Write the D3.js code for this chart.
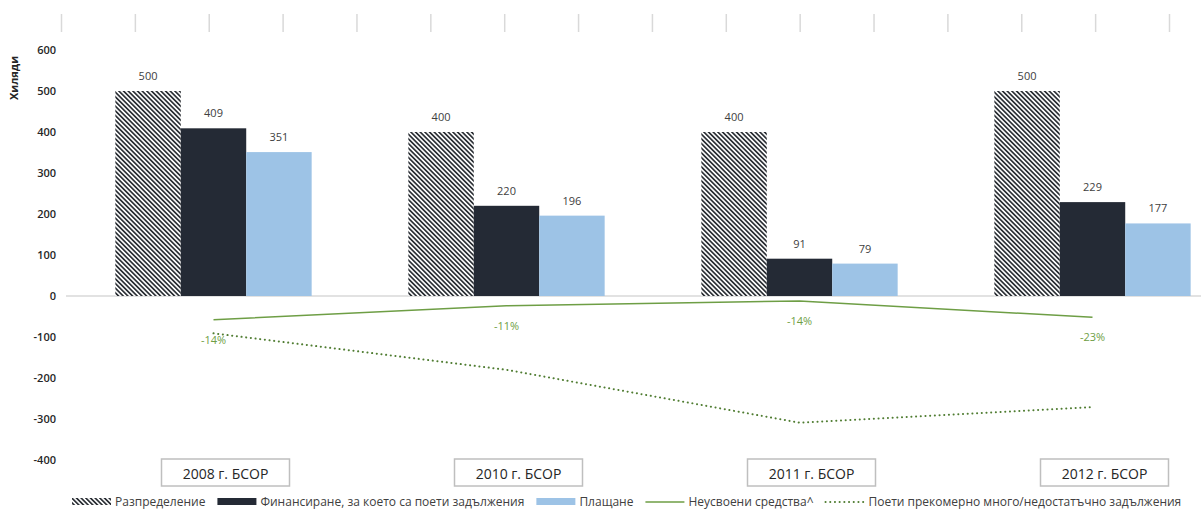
<!DOCTYPE html>
<html>
<head>
<meta charset="utf-8">
<script src="https://cdn.jsdelivr.net/npm/d3@7"></script>
<style>
  body { margin: 0; background: #fff; }
  text { font-family: "Open Sans", sans-serif; }
</style>
</head>
<body>
<svg width="1201" height="510"></svg>
<script>
// chart data
var categories = ["2008 г. БСОР", "2010 г. БСОР", "2011 г. БСОР", "2012 г. БСОР"];
var allocation = [500, 400, 400, 500];
var committed = [409, 220, 91, 229];
var payments = [351, 196, 79, 177];
var unused = [-58, -24, -12, -52];
var unusedLabels = ["-14%", "-11%", "-14%", "-23%"];
var overUnder = [-91, -180, -309, -271];
var yTicks = [-400, -300, -200, -100, 0, 100, 200, 300, 400, 500, 600];
var barSeries = ["Разпределение", "Финансиране, за което са поети задължения", "Плащане"];
var lineSeries = ["Неусвоени средства^", "Поети прекомерно много/недостатъчно задължения"];

var svg = d3.select("svg");

var colours = d3.scaleOrdinal()
    .domain(barSeries)
    .range(["url(#hatch)", "#242a35", "#9dc3e6"]);
var green = "#6e9e45", darkGreen = "#507d32";

var defs = svg.append("defs");
defs.append("pattern")
    .attr("id", "hatch")
    .attr("patternUnits", "userSpaceOnUse")
    .attr("width", 3.3).attr("height", 3.3)
    .attr("patternTransform", "rotate(-45)")
  .call(function(p) {
    p.append("rect").attr("width", 3.3).attr("height", 3.3).attr("fill", "#fff");
    p.append("rect").attr("width", 1.7).attr("height", 3.3).attr("fill", "#2c3036");
  });

var x0 = d3.scaleBand().domain(categories).range([67, 1239])
    .paddingInner(0.33).paddingOuter(0.165);
var x1 = d3.scaleBand().domain(barSeries).range([0, x0.bandwidth()]);
var y = d3.scaleLinear().domain([-400, 600]).range([460, 50]);
var cx = function(c) { return x0(c) + x0.bandwidth() / 2; };

// faint tick marks along the top
var topScale = d3.scaleLinear().domain([0, 15]).range([61, 1169]);
var topAxis = svg.append("g")
    .attr("transform", "translate(0,32)")
    .call(d3.axisTop(topScale).ticks(15).tickSize(18).tickFormat(""));
topAxis.select(".domain").remove();
topAxis.selectAll("line").attr("stroke", "#d9d9d9").attr("stroke-width", 1.5);

// y axis labels
var yAxis = svg.append("g")
    .attr("transform", "translate(56,0)")
    .call(d3.axisLeft(y).tickValues(yTicks).tickSize(0).tickPadding(0)
      .tickFormat(function(d) { return String(d); }));
yAxis.select(".domain").remove();
yAxis.selectAll("text")
    .attr("fill", "#262626")
    .style("font-size", "11px")
    .style("font-weight", "600");

svg.append("text")
    .attr("transform", "translate(18,78) rotate(-90)")
    .attr("text-anchor", "middle")
    .attr("fill", "#262626")
    .style("font-size", "11px")
    .style("font-weight", "700")
    .text("Хиляди");

// zero line
svg.append("line")
    .attr("x1", 66).attr("x2", 1201)
    .attr("y1", y(0)).attr("y2", y(0))
    .attr("stroke", "#d9d9d9").attr("stroke-width", 1.5);

// bars
var rows = categories.map(function(c, i) {
  return {cat: c, values: [allocation[i], committed[i], payments[i]]};
});

var groups = svg.selectAll(".group")
    .data(rows)
  .enter().append("g")
    .attr("class", "group")
    .attr("transform", function(d) { return "translate(" + x0(d.cat) + ",0)"; });

var cells = groups.selectAll(".cell")
    .data(function(d) { return d.values.map(function(v, j) { return {key: barSeries[j], value: v}; }); })
  .enter();

cells.append("rect")
    .attr("x", function(d) { return x1(d.key); })
    .attr("y", function(d) { return y(Math.max(0, d.value)); })
    .attr("width", x1.bandwidth())
    .attr("height", function(d) { return Math.abs(y(d.value) - y(0)); })
    .attr("fill", function(d) { return colours(d.key); });

cells.append("text")
    .attr("x", function(d) { return x1(d.key) + x1.bandwidth() / 2; })
    .attr("y", function(d) { return y(d.value) - 11; })
    .attr("text-anchor", "middle")
    .attr("fill", "#404040")
    .style("font-size", "11px")
    .text(function(d) { return d.value; });

// lines
var line = d3.line()
    .x(function(d) { return cx(d.cat); })
    .y(function(d) { return y(d.value); });

var unusedPts = categories.map(function(c, i) { return {cat: c, value: unused[i], label: unusedLabels[i]}; });
var overPts = categories.map(function(c, i) { return {cat: c, value: overUnder[i]}; });

svg.append("path")
    .datum(overPts)
    .attr("d", line)
    .attr("fill", "none")
    .attr("stroke", darkGreen)
    .attr("stroke-width", 2)
    .attr("stroke-linecap", "round")
    .attr("stroke-dasharray", "0.1,4.6");

svg.append("path")
    .datum(unusedPts)
    .attr("d", line)
    .attr("fill", "none")
    .attr("stroke", green)
    .attr("stroke-width", 1.5);

svg.selectAll(".lineLabel")
    .data(unusedPts)
  .enter().append("text")
    .attr("class", "lineLabel")
    .attr("x", function(d) { return cx(d.cat); })
    .attr("y", function(d) { return y(d.value) + 24; })
    .attr("text-anchor", "middle")
    .attr("fill", green)
    .style("font-size", "11px")
    .text(function(d) { return d.label; });

// category boxes
var boxes = svg.selectAll(".catBox")
    .data(categories)
  .enter().append("g")
    .attr("class", "catBox")
    .attr("transform", function(d) { return "translate(" + (cx(d) + 12) + ",0)"; });

boxes.append("rect")
    .attr("x", -64).attr("y", 459)
    .attr("width", 128).attr("height", 27)
    .attr("fill", "#fff")
    .attr("stroke", "#bfbfbf")
    .attr("stroke-width", 1.5);

boxes.append("text")
    .attr("y", 479)
    .attr("text-anchor", "middle")
    .attr("fill", "#262626")
    .style("font-size", "14px")
    .text(function(d) { return d; });

// legend
var legendItems = [
  {name: barSeries[0], type: "bar"},
  {name: barSeries[1], type: "bar"},
  {name: barSeries[2], type: "bar"},
  {name: lineSeries[0], type: "solid"},
  {name: lineSeries[1], type: "dotted"}
];

var legend = svg.append("g").attr("class", "legend");
var lx = 72;
legendItems.forEach(function(item) {
  var g = legend.append("g").attr("transform", "translate(" + lx + ",0)");
  if (item.type === "bar") {
    g.append("rect").attr("x", 0).attr("y", 498).attr("width", 39).attr("height", 7)
        .attr("fill", colours(item.name));
  } else {
    g.append("line").attr("x1", 0).attr("x2", 39).attr("y1", 502).attr("y2", 502)
        .attr("stroke", item.type === "solid" ? green : darkGreen)
        .attr("stroke-width", item.type === "solid" ? 1.5 : 2)
        .attr("stroke-linecap", item.type === "solid" ? "butt" : "round")
        .attr("stroke-dasharray", item.type === "solid" ? null : "0.1,4.6");
  }
  var t = g.append("text")
      .attr("x", 43).attr("y", 506)
      .attr("fill", "#404040")
      .style("font-size", "12px")
      .text(item.name);
  lx += 43 + t.node().getComputedTextLength() + 12;
});
</script>
</body>
</html>
